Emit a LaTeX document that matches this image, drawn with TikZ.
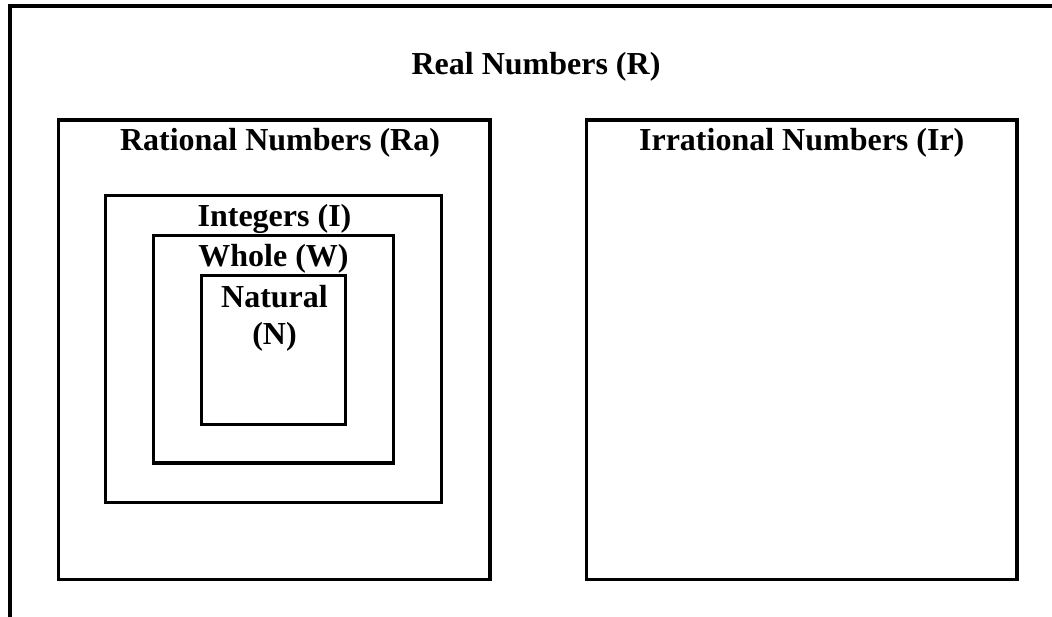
\documentclass[tikz,border=0pt]{standalone}
\usepackage{fontspec}
\setmainfont{Liberation Serif}
\begin{document}
\begin{tikzpicture}[x=1pt,y=-1pt,
  setbox/.style={draw=black, line width=3.5pt, inner sep=0pt, outer sep=0pt, fill=none},
  lbl/.style={inner sep=0pt, outer sep=0pt, anchor=base, font=\bfseries\fontsize{32}{37}\selectfont},
  frame/.style={line width=4pt}]
\useasboundingbox (0,0) rectangle (1052,617);
\fill[white] (0,0) rectangle (1052,617);
% outer frame (only top and left edges shown)
\coordinate (ftl) at (10,6);
\coordinate (ftr) at (1052,6);
\coordinate (fbl) at (10,617);
\draw[frame] (ftr) -- (ftl) -- (fbl);
% sets
\node[setbox, minimum width=431.5pt, minimum height=459.5pt] (rat) at (274.25,349.75) {};
\node[setbox, minimum width=430.5pt, minimum height=459.5pt] (irr) at (801.75,349.75) {};
\node[setbox, minimum width=336pt, minimum height=307pt] (int) at (273.5,349) {};
\node[setbox, minimum width=240pt, minimum height=227.5pt] (whl) at (273.5,349.25) {};
\node[setbox, minimum width=144pt, minimum height=149pt] (nat) at (273.5,350) {};
% labels
\node[lbl] (lreal) at (536,75) {Real Numbers (R)};
\node[lbl] (lrat) at (280,151) {Rational Numbers (Ra)};
\node[lbl] (lirr) at (801.75,151) {Irrational Numbers (Ir)};
\node[lbl] (lint) at (274.5,227) {Integers (I)};
\node[lbl] (lwhl) at (273.5,267) {Whole (W)};
\node[inner sep=0pt, outer sep=0pt, anchor=north, align=center, font=\bfseries\fontsize{32}{37}\selectfont] (lnat) at (274.5,285) {Natural\\(N)};
\end{tikzpicture}
\end{document}
